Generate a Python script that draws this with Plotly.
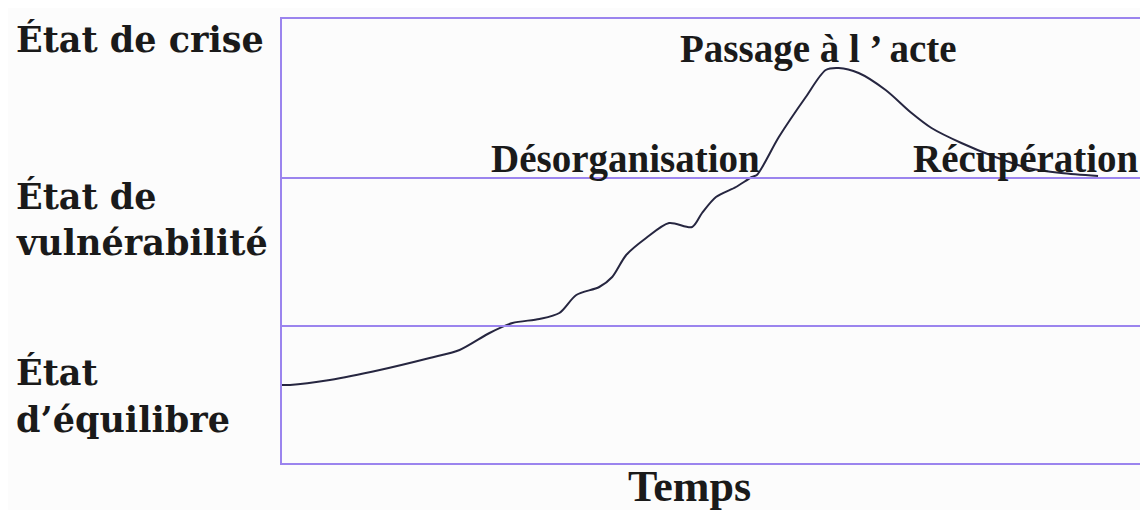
import plotly.graph_objects as go

# Time axis (arbitrary units 0-100) and level values (arbitrary units 0-444)
temps = [0, 0.93, 5.57, 11.38, 17.19, 20.67, 24.16, 26.83, 29.97, 32.29, 34.26, 36.93,
         38.44, 40.07, 42.39, 45.06, 47.74, 48.90, 50.52, 52.85, 54.70, 55.28, 57.84,
         60.98, 63.30, 64.81, 67.13, 70.27, 73.29, 75.61, 79.09, 83.04, 86.88, 90.71, 95.00]
niveau = [78, 78, 83, 93, 105, 113, 130, 140, 144, 150, 168, 176,
          186, 208, 225, 240, 236, 250, 266, 276, 286, 288, 326,
          366, 393, 395, 390, 373, 350, 335, 320, 306, 295, 290, 287]

seuils = [137, 285]  # boundaries between states
etats_lignes = ["État de crise", "État de", "vulnérabilité", "État", "d’équilibre"]
etats_y = [424, 267, 221, 91, 44]
phases = ["Désorganisation", "Passage à l ’ acte", "Récupération"]
phases_x = [40.0, 62.5, 100.0]
phases_y = [304, 414, 304]
axe_x_titre = "Temps"

PURPLE = "#9b84ee"
TXT = "#1a1a1a"
fig = go.Figure()
fig.add_trace(go.Scatter(x=temps, y=niveau, mode="lines",
                         line=dict(color="#262640", width=2, shape="spline", smoothing=0.8),
                         hoverinfo="skip", showlegend=False))

for yv in seuils:
    fig.add_shape(type="line", xref="paper", x0=0, x1=1, yref="y", y0=yv, y1=yv,
                  line=dict(color=PURPLE, width=2))

for txt, yv in zip(etats_lignes, etats_y):
    fig.add_annotation(x=-0.3115, xref="paper", y=yv, yref="y", text="<b>" + txt + "</b>",
                       showarrow=False, xanchor="left", yanchor="middle", align="left",
                       font=dict(family="DejaVu Serif", size=35, color=TXT))

anchors = ["center", "center", "right"]
for txt, xv, yv, an in zip(phases, phases_x, phases_y, anchors):
    fig.add_annotation(x=xv, y=yv, text="<b>" + txt + "</b>", showarrow=False,
                       xanchor=an, yanchor="middle",
                       font=dict(family="Liberation Serif", size=39, color=TXT))

fig.add_annotation(x=47.4, xref="x", y=-0.054, yref="paper", text="<b>" + axe_x_titre + "</b>",
                   showarrow=False, xanchor="center", yanchor="middle",
                   font=dict(family="Liberation Serif", size=44, color=TXT))

fig.update_layout(
    width=1140, height=502,
    margin=dict(l=274, r=5, t=11, b=47),
    paper_bgcolor="#fcfcfc", plot_bgcolor="#fcfcfc",
    xaxis=dict(range=[0, 100], showgrid=False, zeroline=False, showticklabels=False,
               ticks="", showline=True, linecolor=PURPLE, linewidth=2, mirror=True),
    yaxis=dict(range=[0, 444], showgrid=False, zeroline=False, showticklabels=False,
               ticks="", showline=True, linecolor=PURPLE, linewidth=2, mirror=True),
)

fig.write_html("out.html")
